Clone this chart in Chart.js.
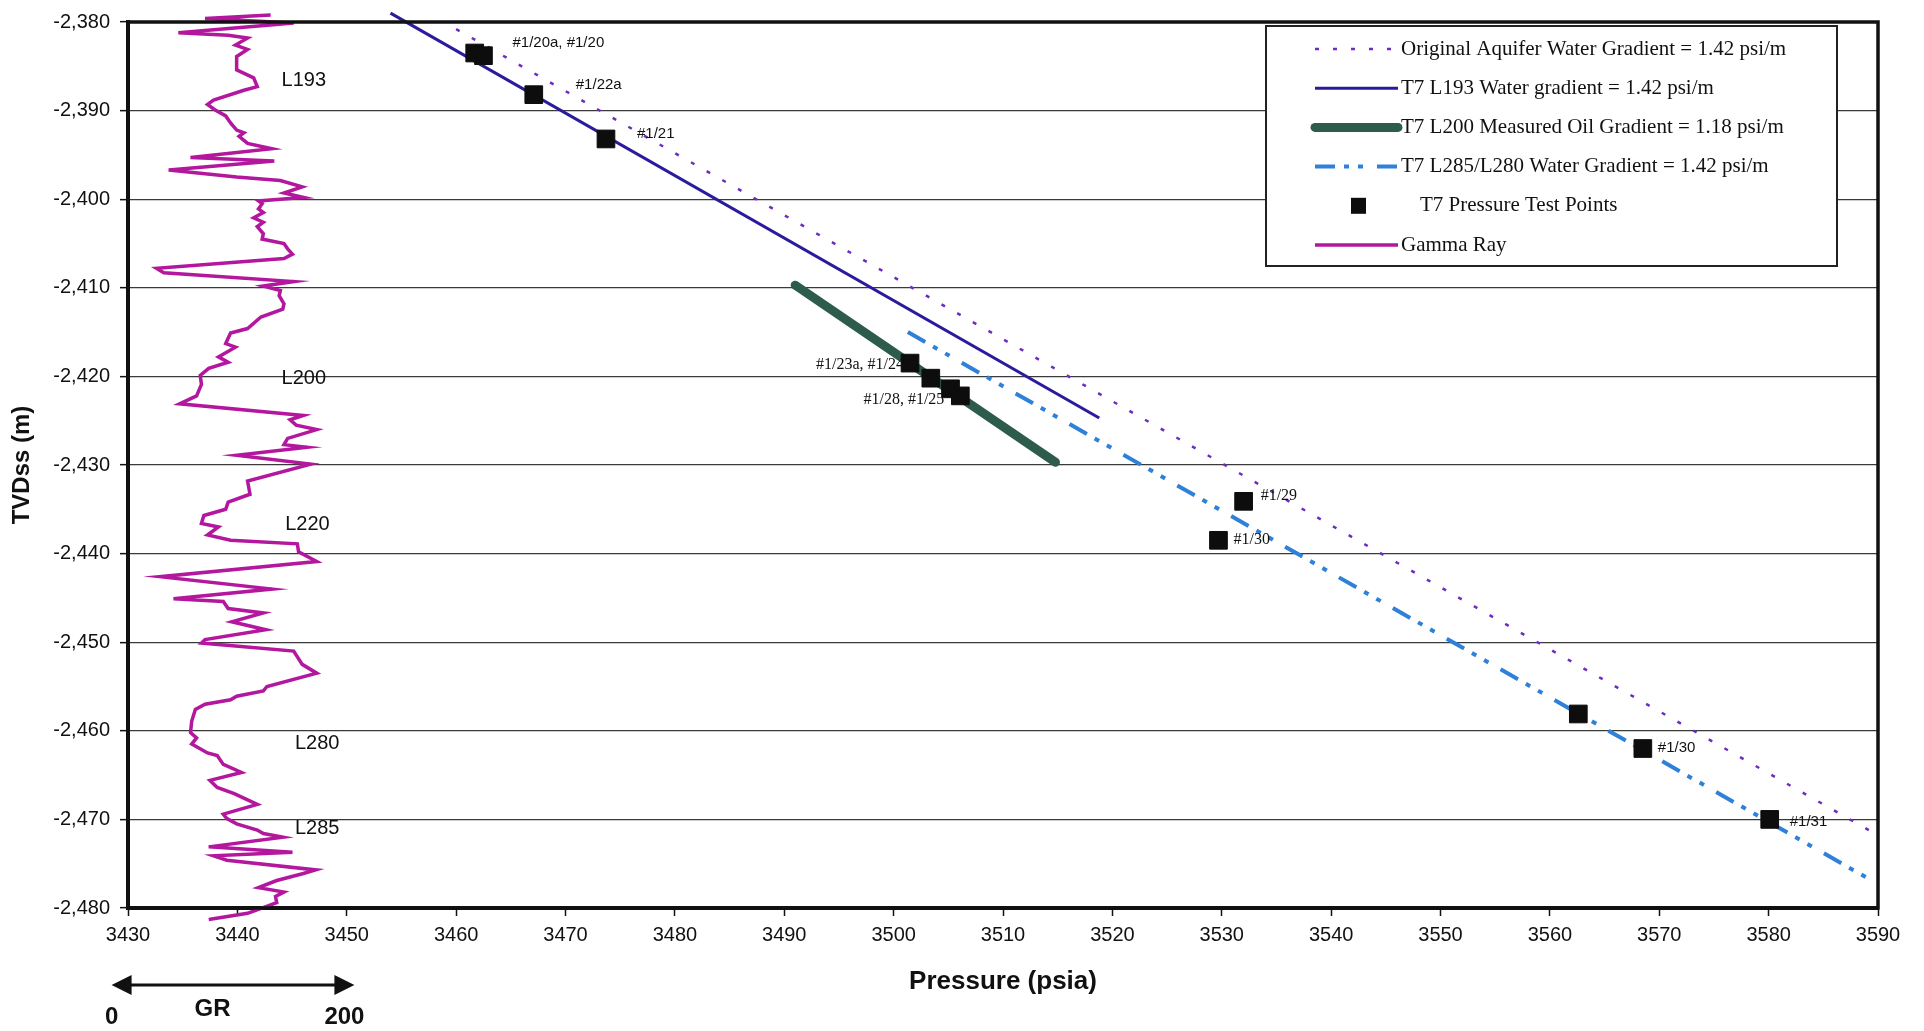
<!DOCTYPE html>
<html>
<head>
<meta charset="utf-8">
<script src="https://cdn.jsdelivr.net/npm/chart.js@4.4.0/dist/chart.umd.min.js"></script>
<style>
  html, body { margin: 0; padding: 0; background: #fff; }
  #wrap { width: 1924px; height: 1031px; }
</style>
</head>
<body>
<div id="wrap"><canvas id="chart1" width="1924" height="1031"></canvas></div>
<script>
// ---- data (pressure in psia, depth in m TVDss) ----
let aquiferP = [3460.0, 3590.0];
let aquiferD = [-2380.8, -2471.8];

let l193P = [3454.0, 3518.8];
let l193D = [-2379.0, -2424.7];

let oilP = [3491.0, 3514.8];
let oilD = [-2409.7, -2429.7];

let l285P = [3501.3, 3590.0];
let l285D = [-2415.0, -2477.3];

let testP = [3461.7, 3462.5, 3467.1, 3473.7, 3501.5, 3503.4, 3505.2, 3506.1, 3532.0, 3529.7, 3562.6, 3568.5, 3580.1];
let testD = [-2383.5, -2383.8, -2388.2, -2393.2, -2418.5, -2420.2, -2421.4, -2422.2, -2434.1, -2438.5, -2458.1, -2462.0, -2470.0];
let testLabels = ['', '#1/20a, #1/20', '#1/22a', '#1/21', '#1/23a, #1/24', '', '', '#1/28, #1/25', '#1/29', '#1/30', '', '#1/30', '#1/31'];

// gamma ray log, API units (0 - 200 track)
let grDepth = [-2379.2, -2379.6, -2380.1, -2381.2, -2381.5, -2381.8, -2382.6, -2383.1, -2383.9, -2385.4,
  -2386.3, -2387.3, -2387.7, -2388.8, -2389.3, -2389.9, -2390.6, -2391.4, -2392.2, -2392.5,
  -2392.9, -2393.7, -2394.3, -2395.3, -2395.7, -2396.7, -2397.5, -2397.9, -2398.6, -2399.3,
  -2399.8, -2400.2, -2400.5, -2401.1, -2401.5, -2402.1, -2402.6, -2403.1, -2403.9, -2404.5,
  -2405.0, -2405.6, -2406.2, -2406.7, -2407.8, -2408.3, -2409.3, -2409.8, -2410.3, -2410.9,
  -2411.8, -2412.4, -2413.3, -2414.6, -2415.1, -2416.3, -2416.7, -2417.8, -2418.4, -2419.1,
  -2419.9, -2420.9, -2422.2, -2423.1, -2424.4, -2424.9, -2425.5, -2426.0, -2427.0, -2427.7,
  -2428.0, -2428.9, -2429.9, -2431.8, -2433.3, -2434.2, -2435.0, -2435.7, -2436.6, -2437.0,
  -2437.9, -2438.5, -2438.9, -2439.8, -2440.9, -2442.6, -2444.0, -2445.1, -2445.4, -2446.2,
  -2446.7, -2447.7, -2448.6, -2449.7, -2450.1, -2451.0, -2452.5, -2453.5, -2455.0, -2455.5,
  -2456.1, -2456.5, -2457.0, -2457.6, -2458.9, -2460.2, -2460.8, -2461.5, -2462.5, -2462.8,
  -2463.8, -2464.7, -2465.6, -2466.4, -2467.1, -2468.3, -2469.4, -2469.9, -2470.5, -2471.2,
  -2471.6, -2472.0, -2473.1, -2473.7, -2474.1, -2474.6, -2475.7, -2476.1, -2476.9, -2477.7,
  -2478.2, -2478.7, -2479.4, -2480.6, -2481.3];
let grValue = [131, 77, 150, 55, 96, 112, 102, 112, 103, 103,
  117, 120, 109, 84, 79, 85, 94, 98, 103, 109,
  105, 112, 132, 65, 134, 47, 103, 139, 157, 142,
  158, 121, 124, 121, 125, 117, 125, 120, 125, 124,
  142, 145, 149, 142, 37, 43, 150, 125, 139, 138,
  142, 141, 123, 112, 98, 94, 102, 88, 96, 80,
  73, 74, 70, 56, 158, 147, 152, 169, 145, 142,
  161, 103, 164, 112, 114, 96, 94, 76, 74, 88,
  79, 98, 153, 154, 169, 40, 132, 51, 92, 96,
  125, 99, 127, 77, 74, 150, 157, 169, 128, 125,
  103, 98, 77, 69, 66, 65, 70, 66, 79, 87,
  92, 107, 81, 87, 101, 120, 92, 95, 103, 120,
  125, 141, 80, 149, 84, 95, 168, 158, 136, 121,
  142, 135, 136, 112, 80];

let formationNames = ['L193', 'L200', 'L220', 'L280', 'L285'];
let formationDepth = [-2386.6, -2420.2, -2436.7, -2461.4, -2471.0];
let formationGR = [140, 140, 143, 151, 151];

// GR track scale: 0 API sits at 3428.5 psia, 200 API at 3450.7 psia
let grZeroPsi = 3428.5;
let grFullPsi = 3450.7;
let pMin = 3430, pMax = 3590;
let psiPerGR = (grFullPsi - grZeroPsi) / 200;

function pts(xs, ys) {
    return xs.map((x, i) => ({ x: x, y: ys[i] }));
}

// labels next to the pressure points: [dx, dy, align, serif]
let labelPlace = {
    1: [29, -13, 'left', false], 2: [42, -10, 'left', false], 3: [31, -5, 'left', false],
    4: [-6, 2, 'right', true], 7: [-16, 4, 'right', true], 8: [17, -6, 'left', true],
    9: [15, -1, 'left', true], 11: [15, -1, 'left', false], 12: [20, 2, 'left', false]
};

let sans = '"Liberation Sans", Arial, sans-serif';
let serif = '"Liberation Serif", "Times New Roman", serif';

let pointLabels = {
    id: 'pointLabels',
    afterDatasetsDraw(chart) {
        let ctx = chart.ctx;
        let meta = chart.getDatasetMeta(4);
        ctx.save();
        ctx.fillStyle = '#111';
        ctx.textBaseline = 'middle';
        testLabels.forEach((t, i) => {
            if (!t) return;
            let p = labelPlace[i];
            let el = meta.data[i];
            ctx.font = p[3] ? '16px ' + serif : '15px ' + sans;
            ctx.textAlign = p[2];
            ctx.fillText(t, el.x + p[0], el.y + p[1]);
        });
        ctx.restore();
    }
};

let frame = {
    id: 'frame',
    afterDraw(chart) {
        let a = chart.chartArea;
        let ctx = chart.ctx;
        ctx.save();
        ctx.strokeStyle = '#111';
        ctx.lineWidth = 3.5;
        ctx.strokeRect(a.left, a.top, a.right - a.left, a.bottom - a.top);
        ctx.restore();
    }
};

let grExtras = {
    id: 'grExtras',
    afterDraw(chart) {
        let ctx = chart.ctx;
        let xg = chart.scales.xGR;
        let yy = chart.scales.y;
        ctx.save();
        // formation names
        ctx.fillStyle = '#111';
        ctx.font = '20px ' + sans;
        ctx.textAlign = 'left';
        ctx.textBaseline = 'middle';
        formationNames.forEach((n, i) => {
            ctx.fillText(n, xg.getPixelForValue(formationGR[i]), yy.getPixelForValue(formationDepth[i]));
        });
        // GR scale arrow under the axis
        let xa = xg.getPixelForValue(0);
        let xb = xg.getPixelForValue(200);
        let ay = 985;
        ctx.strokeStyle = '#111';
        ctx.lineWidth = 3;
        ctx.beginPath();
        ctx.moveTo(xa + 16, ay);
        ctx.lineTo(xb - 16, ay);
        ctx.stroke();
        ctx.beginPath();
        ctx.moveTo(xa, ay); ctx.lineTo(xa + 20, ay - 10); ctx.lineTo(xa + 20, ay + 10); ctx.closePath();
        ctx.moveTo(xb, ay); ctx.lineTo(xb - 20, ay - 10); ctx.lineTo(xb - 20, ay + 10); ctx.closePath();
        ctx.fill();
        ctx.font = 'bold 24px ' + sans;
        ctx.textAlign = 'center';
        ctx.fillText('GR', xa + 101, 1009);
        ctx.fillText('0', xa, 1017);
        ctx.fillText('200', xb - 10, 1017);
        ctx.restore();
    }
};

let boxLegend = {
    id: 'boxLegend',
    afterDraw(chart) {
        let ctx = chart.ctx;
        let x0 = 1266, y0 = 26, w = 571, h = 240;
        ctx.save();
        ctx.fillStyle = '#fff';
        ctx.fillRect(x0, y0, w, h);
        ctx.strokeStyle = '#222';
        ctx.lineWidth = 2;
        ctx.strokeRect(x0, y0, w, h);
        ctx.font = '21px ' + serif;
        ctx.textBaseline = 'middle';
        ctx.textAlign = 'left';
        chart.data.datasets.forEach((ds, i) => {
            let y = y0 + 23 + i * 39.2;
            if (ds.showLine === false) {
                ctx.fillStyle = ds.backgroundColor;
                ctx.fillRect(1351, y - 8, 15, 16);
                ctx.fillStyle = '#111';
                ctx.fillText(ds.label, 1420, y);
            } else {
                ctx.strokeStyle = ds.borderColor;
                ctx.lineWidth = ds.borderWidth;
                ctx.lineCap = ds.borderCapStyle || 'butt';
                ctx.setLineDash(ds.borderDash || []);
                ctx.beginPath();
                ctx.moveTo(1315, y);
                ctx.lineTo(1398, y);
                ctx.stroke();
                ctx.setLineDash([]);
                ctx.fillStyle = '#111';
                ctx.fillText(ds.label, 1401, y);
            }
        });
        ctx.restore();
    }
};

let ctx1 = document.getElementById('chart1').getContext('2d');

let myChart = new Chart(ctx1, {
    type: 'scatter',
    data: {
        datasets: [{
            label: 'Original Aquifer Water Gradient = 1.42 psi/m',
            data: pts(aquiferP, aquiferD),
            showLine: true,
            borderColor: '#6b2dbd',
            borderWidth: 2.5,
            borderDash: [4, 14],
            pointRadius: 0,
            order: 3
        }, {
            label: 'T7 L193 Water gradient = 1.42 psi/m',
            data: pts(l193P, l193D),
            showLine: true,
            borderColor: '#2a1b9c',
            borderWidth: 3,
            pointRadius: 0,
            clip: false,
            order: 3
        }, {
            label: 'T7 L200 Measured Oil Gradient = 1.18 psi/m',
            data: pts(oilP, oilD),
            showLine: true,
            borderColor: '#2d5c4c',
            borderWidth: 9,
            borderCapStyle: 'round',
            pointRadius: 0,
            order: 4
        }, {
            label: 'T7 L285/L280 Water Gradient = 1.42 psi/m',
            data: pts(l285P, l285D),
            showLine: true,
            borderColor: '#2e80d8',
            borderWidth: 4,
            borderDash: [20, 9, 5, 9, 5, 14],
            pointRadius: 0,
            order: 2
        }, {
            label: 'T7 Pressure Test Points',
            data: pts(testP, testD),
            showLine: false,
            pointStyle: 'rect',
            pointRadius: 12.5,
            backgroundColor: '#0d0d0d',
            borderColor: '#0d0d0d',
            order: 0
        }, {
            label: 'Gamma Ray',
            data: pts(grValue, grDepth),
            xAxisID: 'xGR',
            showLine: true,
            borderColor: '#b3179e',
            borderWidth: 3.5,
            pointRadius: 0,
            clip: false,
            order: 5
        }]
    },
    options: {
        responsive: false,
        animation: false,
        events: [],
        locale: 'en-US',
        layout: { padding: { left: 0, top: 17, right: 46, bottom: 0 } },
        plugins: {
            legend: { display: false },
            tooltip: { enabled: false }
        },
        scales: {
            x: {
                type: 'linear',
                position: 'bottom',
                min: pMin,
                max: pMax,
                afterFit: s => { s.height = 123; },
                ticks: { stepSize: 10, autoSkip: false, maxRotation: 0, padding: 7, color: '#111',
                    font: { family: sans, size: 20 }, callback: v => String(v) },
                grid: { color: 'rgba(0,0,0,0)', tickColor: '#111', tickLength: 8, tickWidth: 1.5 },
                border: { color: '#111', width: 4 },
                title: { display: true, text: 'Pressure (psia)', color: '#111',
                    font: { family: sans, size: 26, weight: 'bold' }, padding: { top: 4, bottom: 34 } }
            },
            xGR: {
                type: 'linear',
                axis: 'x',
                display: false,
                min: (pMin - grZeroPsi) / psiPerGR,
                max: (pMax - grZeroPsi) / psiPerGR
            },
            y: {
                type: 'linear',
                min: -2480,
                max: -2380,
                afterFit: s => { s.width = 128; },
                ticks: { stepSize: 10, padding: 10, color: '#111', font: { family: sans, size: 20 } },
                grid: { color: '#3a3a3a', lineWidth: 1.3, tickColor: '#111', tickLength: 8, tickWidth: 1.5 },
                border: { color: '#111', width: 4 },
                title: { display: true, text: 'TVDss (m)', color: '#111',
                    font: { family: sans, size: 24, weight: 'bold' }, padding: { top: 8, bottom: 0 } }
            }
        }
    },
    plugins: [frame, pointLabels, grExtras, boxLegend]
});
</script>
</body>
</html>
